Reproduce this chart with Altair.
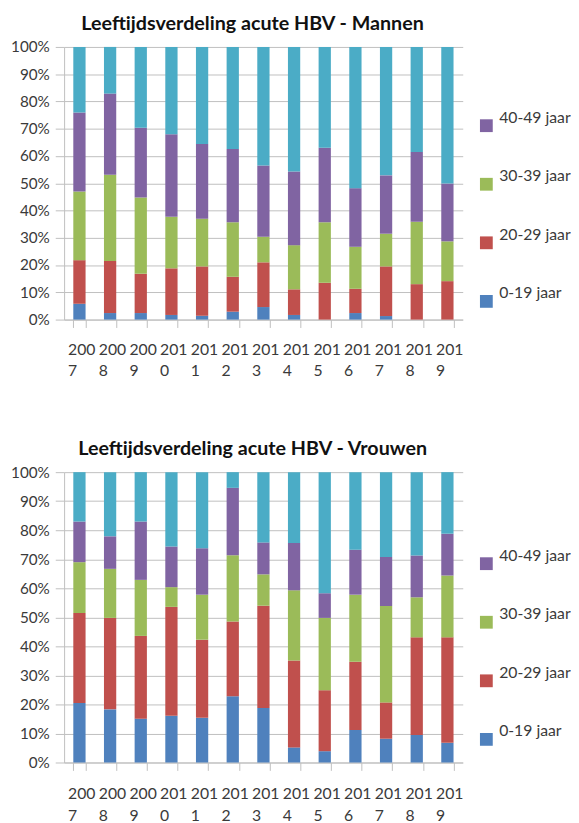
import altair as alt
import pandas as pd

years = ["2007", "2008", "2009", "2010", "2011", "2012", "2013",
         "2014", "2015", "2016", "2017", "2018", "2019"]
groups = ["0-19 jaar", "20-29 jaar", "30-39 jaar", "40-49 jaar", "50+ jaar"]
legend_groups = ["40-49 jaar", "30-39 jaar", "20-29 jaar", "0-19 jaar"]
colors = ["#4F81BD", "#C0504D", "#9BBB59", "#8064A2", "#4BACC6"]

# Mannen: share (%) per age group
men_0_19 = [5.8, 2.4, 2.4, 1.7, 1.4, 2.9, 4.6, 1.7, 0.0, 2.4, 1.3, 0.0, 0.0]
men_20_29 = [16.0, 19.1, 14.4, 17.1, 18.1, 12.8, 16.4, 9.4, 13.5, 8.9, 18.2, 13.0, 14.1]
men_30_39 = [25.2, 31.6, 28.0, 18.9, 17.5, 20.0, 9.4, 16.2, 22.2, 15.4, 12.0, 22.9, 14.6]
men_40_49 = [29.0, 29.8, 25.6, 30.3, 27.4, 26.9, 26.1, 27.0, 27.3, 21.5, 21.4, 25.6, 21.2]
men_50p = [24.0, 17.1, 29.6, 32.0, 35.6, 37.4, 43.5, 45.7, 37.0, 51.8, 47.1, 38.5, 50.1]

# Vrouwen: share (%) per age group
women_0_19 = [20.5, 18.3, 15.1, 16.1, 15.4, 22.8, 18.8, 5.2, 3.9, 11.2, 8.2, 9.5, 6.8]
women_20_29 = [31.0, 31.5, 28.5, 37.5, 26.9, 25.8, 35.2, 29.9, 21.0, 23.5, 12.5, 33.6, 36.3]
women_30_39 = [17.5, 16.9, 19.3, 6.8, 15.5, 22.8, 10.8, 24.2, 24.9, 23.1, 33.2, 13.8, 21.3]
women_40_49 = [14.0, 11.2, 20.1, 14.0, 16.0, 23.2, 11.0, 16.3, 8.5, 15.5, 16.9, 14.4, 14.4]
women_50p = [17.0, 22.1, 17.0, 25.6, 26.2, 5.4, 24.2, 24.4, 41.7, 26.7, 29.2, 28.7, 21.2]

men = [men_0_19, men_20_29, men_30_39, men_40_49, men_50p]
women = [women_0_19, women_20_29, women_30_39, women_40_49, women_50p]

FONT = "Lato"
TXT = "#3a3a3a"
GRID = "#BFBFBF"


def panel(series, title, height, legend_y, label_pad):
    rows = []
    for gi, (g, vals) in enumerate(zip(groups, series)):
        for y, v in zip(years, vals):
            rows.append({"jaar": y, "groep": g, "aandeel": v, "ord": gi})
    df = pd.DataFrame(rows)
    return alt.Chart(df).mark_bar().encode(
        x=alt.X("jaar:N", sort=years, title=None,
                scale=alt.Scale(paddingInner=0.6, paddingOuter=0.3),
                axis=alt.Axis(tickBand="extent", labelAngle=0, labelAlign="left",
                              labelOffset=-12, labelBaseline="top",
                              labelExpr="[slice(datum.label,0,3), slice(datum.label,3)]",
                              labelLineHeight=22, tickSize=8, labelPadding=label_pad,
                              labelFontSize=16, labelColor=TXT, labelFont=FONT,
                              domainColor=GRID, tickColor=GRID, grid=False)),
        y=alt.Y("aandeel:Q", stack="normalize", title=None,
                scale=alt.Scale(domain=[0, 1]),
                axis=alt.Axis(format=".0%", values=[i / 10 for i in range(11)],
                              tickSize=9, labelPadding=6, minExtent=57,
                              labelFontSize=15.5, labelColor=TXT, labelFont=FONT,
                              domainColor=GRID, tickColor=GRID, gridColor=GRID)),
        color=alt.Color("groep:N", scale=alt.Scale(domain=groups, range=colors),
                        legend=alt.Legend(values=legend_groups, orient="none",
                                          legendX=421, legendY=legend_y, title=None,
                                          symbolType="square", symbolSize=169,
                                          symbolStrokeWidth=0, rowPadding=36.5,
                                          padding=0, labelOffset=5,
                                          labelBaseline="bottom",
                                          labelFontSize=16, labelColor=TXT,
                                          labelFont=FONT)),
        order=alt.Order("ord:Q", sort="ascending"),
    ).properties(
        width=405, height=height,
        title=alt.TitleParams(title, fontSize=20, fontWeight="bold", font=FONT,
                              color="#111111", offset=6, anchor="middle",
                              frame="group", dx=-11),
    )


top = panel(men, "Leeftijdsverdeling acute HBV - Mannen", 277, 72, 14)
bottom = panel(women, "Leeftijdsverdeling acute HBV - Vrouwen", 295, 85, 16)

chart = alt.vconcat(top, bottom, spacing=62).resolve_legend(
    color="independent"
).properties(padding=0).configure_view(stroke=None)

chart.save("out.html", embed_options={"renderer": "svg", "actions": False})
